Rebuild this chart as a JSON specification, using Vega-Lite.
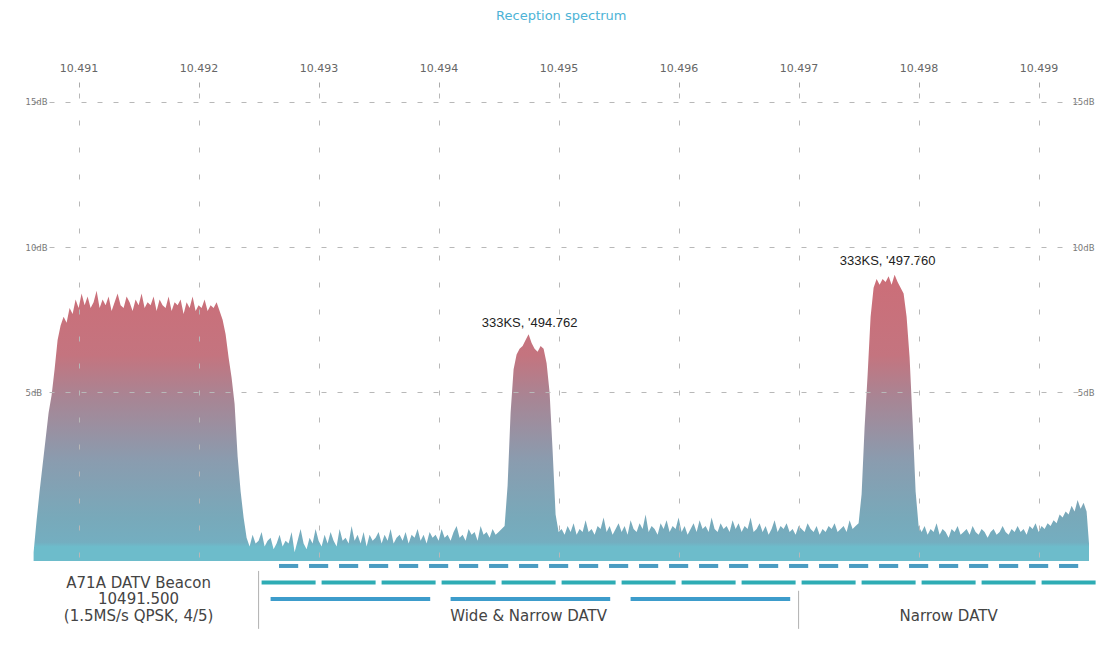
{
"$schema":"https://vega.github.io/schema/vega-lite/v6.json",
"background":"white",
"padding":{"left":25,"top":10,"right":8,"bottom":5},
"title":{"text":"Reception spectrum","fontSize":13,"font":"DejaVu Sans","fontWeight":"normal","color":"#4db3d6","anchor":"middle","offset":39},
"config":{"view":{"stroke":null}},
"spacing":0,
"datasets":{
"spec":[
{"f":10490.625,"d":-0.5},{"f":10490.65,"d":0.6},{"f":10490.675,"d":1.6},{"f":10490.7,"d":2.5},{"f":10490.725,"d":3.4},{"f":10490.75,"d":4.3},{"f":10490.775,"d":4.9},{"f":10490.8,"d":5.8},{"f":10490.825,"d":6.8},{"f":10490.85,"d":7.3},{"f":10490.875,"d":7.6},{"f":10490.9,"d":7.4},{"f":10490.925,"d":7.9},{"f":10490.95,"d":7.7},{"f":10490.975,"d":8.2},
{"f":10491.0,"d":7.9},{"f":10491.025,"d":8.4},{"f":10491.05,"d":8.0},{"f":10491.075,"d":8.3},{"f":10491.1,"d":7.9},{"f":10491.125,"d":8.1},{"f":10491.15,"d":8.5},{"f":10491.175,"d":7.9},{"f":10491.2,"d":8.2},{"f":10491.225,"d":8.0},{"f":10491.25,"d":8.3},{"f":10491.275,"d":7.8},{"f":10491.3,"d":8.1},{"f":10491.325,"d":8.4},{"f":10491.35,"d":8.0},{"f":10491.375,"d":7.9},{"f":10491.4,"d":8.3},{"f":10491.425,"d":8.1},{"f":10491.45,"d":7.8},{"f":10491.475,"d":8.2},{"f":10491.5,"d":8.0},{"f":10491.525,"d":8.4},{"f":10491.55,"d":7.9},{"f":10491.575,"d":8.1},{"f":10491.6,"d":8.0},{"f":10491.625,"d":8.3},{"f":10491.65,"d":7.8},{"f":10491.675,"d":8.2},{"f":10491.7,"d":8.0},{"f":10491.725,"d":7.9},{"f":10491.75,"d":8.3},{"f":10491.775,"d":7.8},{"f":10491.8,"d":8.1},{"f":10491.825,"d":8.0},{"f":10491.85,"d":8.2},{"f":10491.875,"d":7.7},{"f":10491.9,"d":8.1},{"f":10491.925,"d":7.9},{"f":10491.95,"d":8.3},{"f":10491.975,"d":7.8},
{"f":10492.0,"d":8.0},{"f":10492.025,"d":7.9},{"f":10492.05,"d":8.2},{"f":10492.075,"d":7.8},{"f":10492.1,"d":8.0},{"f":10492.125,"d":7.9},{"f":10492.15,"d":8.1},{"f":10492.175,"d":7.8},{"f":10492.2,"d":7.5},{"f":10492.225,"d":7.0},{"f":10492.25,"d":6.2},{"f":10492.275,"d":5.5},{"f":10492.3,"d":4.6},{"f":10492.325,"d":2.8},{"f":10492.35,"d":1.6},{"f":10492.375,"d":0.7},{"f":10492.4,"d":0.0},{"f":10492.425,"d":-0.3},{"f":10492.45,"d":0.1},{"f":10492.475,"d":-0.2},{"f":10492.5,"d":-0.1},{"f":10492.525,"d":0.2},{"f":10492.55,"d":-0.3},{"f":10492.575,"d":-0.1},{"f":10492.6,"d":0.0},{"f":10492.625,"d":-0.4},{"f":10492.65,"d":-0.2},{"f":10492.675,"d":0.1},{"f":10492.7,"d":-0.3},{"f":10492.725,"d":-0.1},{"f":10492.75,"d":-0.2},{"f":10492.775,"d":0.2},{"f":10492.8,"d":-0.5},{"f":10492.825,"d":-0.1},{"f":10492.85,"d":0.3},{"f":10492.875,"d":-0.2},{"f":10492.9,"d":-0.4},{"f":10492.925,"d":0.0},{"f":10492.95,"d":-0.2},{"f":10492.975,"d":0.3},
{"f":10493.0,"d":-0.1},{"f":10493.025,"d":-0.3},{"f":10493.05,"d":0.1},{"f":10493.075,"d":-0.2},{"f":10493.1,"d":0.2},{"f":10493.125,"d":-0.1},{"f":10493.15,"d":-0.3},{"f":10493.175,"d":0.3},{"f":10493.2,"d":-0.1},{"f":10493.225,"d":0.0},{"f":10493.25,"d":-0.2},{"f":10493.275,"d":0.4},{"f":10493.3,"d":-0.1},{"f":10493.325,"d":0.1},{"f":10493.35,"d":-0.2},{"f":10493.375,"d":0.2},{"f":10493.4,"d":-0.3},{"f":10493.425,"d":0.1},{"f":10493.45,"d":-0.1},{"f":10493.475,"d":0.0},{"f":10493.5,"d":0.2},{"f":10493.525,"d":-0.2},{"f":10493.55,"d":0.1},{"f":10493.575,"d":-0.1},{"f":10493.6,"d":0.3},{"f":10493.625,"d":-0.2},{"f":10493.65,"d":0.0},{"f":10493.675,"d":0.1},{"f":10493.7,"d":-0.1},{"f":10493.725,"d":0.2},{"f":10493.75,"d":-0.2},{"f":10493.775,"d":0.1},{"f":10493.8,"d":0.0},{"f":10493.825,"d":0.3},{"f":10493.85,"d":-0.1},{"f":10493.875,"d":0.1},{"f":10493.9,"d":-0.2},{"f":10493.925,"d":0.2},{"f":10493.95,"d":0.0},{"f":10493.975,"d":0.1},
{"f":10494.0,"d":-0.1},{"f":10494.025,"d":0.3},{"f":10494.05,"d":0.0},{"f":10494.075,"d":0.1},{"f":10494.1,"d":-0.1},{"f":10494.125,"d":0.2},{"f":10494.15,"d":0.4},{"f":10494.175,"d":0.0},{"f":10494.2,"d":0.1},{"f":10494.225,"d":-0.1},{"f":10494.25,"d":0.3},{"f":10494.275,"d":0.1},{"f":10494.3,"d":0.2},{"f":10494.325,"d":-0.1},{"f":10494.35,"d":0.4},{"f":10494.375,"d":0.1},{"f":10494.4,"d":0.2},{"f":10494.425,"d":0.0},{"f":10494.45,"d":0.3},{"f":10494.475,"d":0.1},{"f":10494.5,"d":0.2},{"f":10494.525,"d":0.3},{"f":10494.55,"d":0.4},{"f":10494.575,"d":1.8},{"f":10494.6,"d":4.3},{"f":10494.625,"d":5.8},{"f":10494.65,"d":6.3},{"f":10494.675,"d":6.5},{"f":10494.7,"d":6.6},{"f":10494.725,"d":6.8},{"f":10494.75,"d":7.0},{"f":10494.775,"d":6.7},{"f":10494.8,"d":6.5},{"f":10494.825,"d":6.4},{"f":10494.85,"d":6.6},{"f":10494.875,"d":6.5},{"f":10494.9,"d":6.0},{"f":10494.925,"d":5.0},{"f":10494.95,"d":3.0},{"f":10494.975,"d":0.8},
{"f":10495.0,"d":0.2},{"f":10495.025,"d":0.3},{"f":10495.05,"d":0.1},{"f":10495.075,"d":0.4},{"f":10495.1,"d":0.2},{"f":10495.125,"d":0.5},{"f":10495.15,"d":0.1},{"f":10495.175,"d":0.3},{"f":10495.2,"d":0.2},{"f":10495.225,"d":0.6},{"f":10495.25,"d":0.2},{"f":10495.275,"d":0.3},{"f":10495.3,"d":0.1},{"f":10495.325,"d":0.4},{"f":10495.35,"d":0.3},{"f":10495.375,"d":0.7},{"f":10495.4,"d":0.2},{"f":10495.425,"d":0.4},{"f":10495.45,"d":0.1},{"f":10495.475,"d":0.3},{"f":10495.5,"d":0.5},{"f":10495.525,"d":0.2},{"f":10495.55,"d":0.4},{"f":10495.575,"d":0.1},{"f":10495.6,"d":0.6},{"f":10495.625,"d":0.3},{"f":10495.65,"d":0.2},{"f":10495.675,"d":0.5},{"f":10495.7,"d":0.3},{"f":10495.725,"d":0.8},{"f":10495.75,"d":0.2},{"f":10495.775,"d":0.4},{"f":10495.8,"d":0.3},{"f":10495.825,"d":0.1},{"f":10495.85,"d":0.5},{"f":10495.875,"d":0.3},{"f":10495.9,"d":0.6},{"f":10495.925,"d":0.2},{"f":10495.95,"d":0.4},{"f":10495.975,"d":0.3},
{"f":10496.0,"d":0.7},{"f":10496.025,"d":0.2},{"f":10496.05,"d":0.4},{"f":10496.075,"d":0.1},{"f":10496.1,"d":0.3},{"f":10496.125,"d":0.5},{"f":10496.15,"d":0.2},{"f":10496.175,"d":0.6},{"f":10496.2,"d":0.3},{"f":10496.225,"d":0.4},{"f":10496.25,"d":0.2},{"f":10496.275,"d":0.7},{"f":10496.3,"d":0.3},{"f":10496.325,"d":0.2},{"f":10496.35,"d":0.5},{"f":10496.375,"d":0.3},{"f":10496.4,"d":0.4},{"f":10496.425,"d":0.2},{"f":10496.45,"d":0.6},{"f":10496.475,"d":0.3},{"f":10496.5,"d":0.5},{"f":10496.525,"d":0.2},{"f":10496.55,"d":0.4},{"f":10496.575,"d":0.3},{"f":10496.6,"d":0.7},{"f":10496.625,"d":0.2},{"f":10496.65,"d":0.3},{"f":10496.675,"d":0.5},{"f":10496.7,"d":0.2},{"f":10496.725,"d":0.4},{"f":10496.75,"d":0.1},{"f":10496.775,"d":0.3},{"f":10496.8,"d":0.6},{"f":10496.825,"d":0.2},{"f":10496.85,"d":0.4},{"f":10496.875,"d":0.3},{"f":10496.9,"d":0.5},{"f":10496.925,"d":0.2},{"f":10496.95,"d":0.3},{"f":10496.975,"d":0.1},
{"f":10497.0,"d":0.4},{"f":10497.025,"d":0.3},{"f":10497.05,"d":0.2},{"f":10497.075,"d":0.5},{"f":10497.1,"d":0.3},{"f":10497.125,"d":0.2},{"f":10497.15,"d":0.4},{"f":10497.175,"d":0.1},{"f":10497.2,"d":0.3},{"f":10497.225,"d":0.2},{"f":10497.25,"d":0.4},{"f":10497.275,"d":0.3},{"f":10497.3,"d":0.5},{"f":10497.325,"d":0.2},{"f":10497.35,"d":0.3},{"f":10497.375,"d":0.4},{"f":10497.4,"d":0.2},{"f":10497.425,"d":0.6},{"f":10497.45,"d":0.3},{"f":10497.475,"d":0.4},{"f":10497.5,"d":0.5},{"f":10497.525,"d":1.5},{"f":10497.55,"d":3.8},{"f":10497.575,"d":5.6},{"f":10497.6,"d":7.6},{"f":10497.625,"d":8.6},{"f":10497.65,"d":8.9},{"f":10497.675,"d":8.7},{"f":10497.7,"d":8.9},{"f":10497.725,"d":8.8},{"f":10497.75,"d":9.0},{"f":10497.775,"d":8.7},{"f":10497.8,"d":9.05},{"f":10497.825,"d":8.8},{"f":10497.85,"d":8.6},{"f":10497.875,"d":8.4},{"f":10497.9,"d":7.6},{"f":10497.925,"d":6.2},{"f":10497.95,"d":4.0},{"f":10497.975,"d":1.6},
{"f":10498.0,"d":0.4},{"f":10498.025,"d":0.2},{"f":10498.05,"d":0.4},{"f":10498.075,"d":0.1},{"f":10498.1,"d":0.3},{"f":10498.125,"d":0.2},{"f":10498.15,"d":0.5},{"f":10498.175,"d":0.1},{"f":10498.2,"d":0.3},{"f":10498.225,"d":0.2},{"f":10498.25,"d":0.0},{"f":10498.275,"d":0.3},{"f":10498.3,"d":0.2},{"f":10498.325,"d":0.4},{"f":10498.35,"d":0.1},{"f":10498.375,"d":0.2},{"f":10498.4,"d":0.3},{"f":10498.425,"d":0.1},{"f":10498.45,"d":0.4},{"f":10498.475,"d":0.2},{"f":10498.5,"d":0.1},{"f":10498.525,"d":0.3},{"f":10498.55,"d":0.2},{"f":10498.575,"d":0.0},{"f":10498.6,"d":0.2},{"f":10498.625,"d":0.3},{"f":10498.65,"d":0.1},{"f":10498.675,"d":0.2},{"f":10498.7,"d":0.4},{"f":10498.725,"d":0.2},{"f":10498.75,"d":0.1},{"f":10498.775,"d":0.3},{"f":10498.8,"d":0.2},{"f":10498.825,"d":0.4},{"f":10498.85,"d":0.2},{"f":10498.875,"d":0.3},{"f":10498.9,"d":0.1},{"f":10498.925,"d":0.4},{"f":10498.95,"d":0.3},{"f":10498.975,"d":0.5},
{"f":10499.0,"d":0.2},{"f":10499.025,"d":0.4},{"f":10499.05,"d":0.3},{"f":10499.075,"d":0.5},{"f":10499.1,"d":0.4},{"f":10499.125,"d":0.6},{"f":10499.15,"d":0.5},{"f":10499.175,"d":0.8},{"f":10499.2,"d":0.7},{"f":10499.225,"d":0.9},{"f":10499.25,"d":0.8},{"f":10499.275,"d":1.1},{"f":10499.3,"d":0.9},{"f":10499.325,"d":1.3},{"f":10499.35,"d":1.0},{"f":10499.375,"d":1.2},{"f":10499.4,"d":0.9},{"f":10499.42,"d":-0.2}
],
"notes":[
{"f":10494.758,"d":7.4,"t":"333KS, '494.762"},
{"f":10497.742,"d":9.53,"t":"333KS, '497.760"}
],
"bands":[
{"a":10492.67,"b":10492.83,"lvl":1,"row":"r1"},{"a":10492.92,"b":10493.08,"lvl":1,"row":"r1"},{"a":10493.17,"b":10493.33,"lvl":1,"row":"r1"},{"a":10493.42,"b":10493.58,"lvl":1,"row":"r1"},{"a":10493.67,"b":10493.83,"lvl":1,"row":"r1"},{"a":10493.92,"b":10494.08,"lvl":1,"row":"r1"},{"a":10494.17,"b":10494.33,"lvl":1,"row":"r1"},{"a":10494.42,"b":10494.58,"lvl":1,"row":"r1"},{"a":10494.67,"b":10494.83,"lvl":1,"row":"r1"},{"a":10494.92,"b":10495.08,"lvl":1,"row":"r1"},{"a":10495.17,"b":10495.33,"lvl":1,"row":"r1"},{"a":10495.42,"b":10495.58,"lvl":1,"row":"r1"},{"a":10495.67,"b":10495.83,"lvl":1,"row":"r1"},{"a":10495.92,"b":10496.08,"lvl":1,"row":"r1"},{"a":10496.17,"b":10496.33,"lvl":1,"row":"r1"},{"a":10496.42,"b":10496.58,"lvl":1,"row":"r1"},{"a":10496.67,"b":10496.83,"lvl":1,"row":"r1"},{"a":10496.92,"b":10497.08,"lvl":1,"row":"r1"},{"a":10497.17,"b":10497.33,"lvl":1,"row":"r1"},{"a":10497.42,"b":10497.58,"lvl":1,"row":"r1"},{"a":10497.67,"b":10497.83,"lvl":1,"row":"r1"},{"a":10497.92,"b":10498.08,"lvl":1,"row":"r1"},{"a":10498.17,"b":10498.33,"lvl":1,"row":"r1"},{"a":10498.42,"b":10498.58,"lvl":1,"row":"r1"},{"a":10498.67,"b":10498.83,"lvl":1,"row":"r1"},{"a":10498.92,"b":10499.08,"lvl":1,"row":"r1"},{"a":10499.17,"b":10499.33,"lvl":1,"row":"r1"},
{"a":10492.525,"b":10492.975,"lvl":2,"row":"r2"},{"a":10493.025,"b":10493.475,"lvl":2,"row":"r2"},{"a":10493.525,"b":10493.975,"lvl":2,"row":"r2"},{"a":10494.025,"b":10494.475,"lvl":2,"row":"r2"},{"a":10494.525,"b":10494.975,"lvl":2,"row":"r2"},{"a":10495.025,"b":10495.475,"lvl":2,"row":"r2"},{"a":10495.525,"b":10495.975,"lvl":2,"row":"r2"},{"a":10496.025,"b":10496.475,"lvl":2,"row":"r2"},{"a":10496.525,"b":10496.975,"lvl":2,"row":"r2"},{"a":10497.025,"b":10497.475,"lvl":2,"row":"r2"},{"a":10497.525,"b":10497.975,"lvl":2,"row":"r2"},{"a":10498.025,"b":10498.475,"lvl":2,"row":"r2"},{"a":10498.525,"b":10498.975,"lvl":2,"row":"r2"},{"a":10499.025,"b":10499.475,"lvl":2,"row":"r2"},
{"a":10492.6,"b":10493.93,"lvl":3,"row":"r3"},{"a":10494.1,"b":10495.43,"lvl":3,"row":"r3"},{"a":10495.6,"b":10496.93,"lvl":3,"row":"r3"}
],
"seps":[
{"p":10492.5,"l1":1.3,"l2":4.8},
{"p":10497.0,"l1":2.5,"l2":4.8}
],
"btext":[
{"p":10491.5,"lvl":2,"t":"A71A DATV Beacon"},
{"p":10491.5,"lvl":3,"t":"10491.500"},
{"p":10491.5,"lvl":4,"t":"(1.5MS/s QPSK, 4/5)"},
{"p":10494.75,"lvl":4,"t":"Wide & Narrow DATV"},
{"p":10498.25,"lvl":4,"t":"Narrow DATV"}
]
},
"vconcat":[
{
"width":1056,"height":468,
"layer":[
{
"data":{"name":"spec"},
"mark":{"type":"area","interpolate":"linear","clip":true,
"color":{"gradient":"linear","x1":0,"y1":0,"x2":0,"y2":1,"stops":[
{"offset":0,"color":"#cc6e78"},{"offset":0.28,"color":"#c4747f"},{"offset":0.43,"color":"#a88594"},{"offset":0.65,"color":"#8a9caf"},{"offset":0.85,"color":"#78a9ba"},{"offset":0.935,"color":"#74aec0"},{"offset":0.95,"color":"#6dbccb"},{"offset":1,"color":"#6dbccb"}]}},
"encoding":{
"x":{"field":"f","type":"quantitative","scale":{"domain":[10490.62,10499.42],"nice":false,"zero":false},
"axis":{"orient":"top","values":[10491,10492,10493,10494,10495,10496,10497,10498,10499],"labelExpr":"format(datum.value/1000,'.3f')","grid":false,"domain":false,"ticks":true,"tickSize":5,"tickColor":"#aaa","offset":6,"labelPadding":9,"labelFont":"DejaVu Sans","labelFontSize":11,"labelColor":"#666","title":null}},
"y":{"field":"d","type":"quantitative","scale":{"domain":[-0.8,15.3],"nice":false,"zero":false},
"axis":{"orient":"left","values":[5,10,15],"labelExpr":"datum.value + 'dB'","grid":true,"gridDash":[5,11],"gridColor":"#b8b8b8","domain":false,"ticks":false,"tickSize":0,"labelAlign":"left","labelPadding":8,"labelFont":"DejaVu Sans","labelFontSize":8.5,"labelColor":"#777","title":null,"zindex":1}},
"y2":{"datum":-0.8}
}
},
{
"data":{"name":"notes"},
"mark":{"type":"text","font":"Liberation Sans","fontSize":13,"color":"#222","baseline":"middle","align":"center"},
"encoding":{
"x":{"field":"f","type":"quantitative","scale":{"domain":[10490.62,10499.42],"nice":false,"zero":false},
"axis":{"orient":"bottom","values":[10491,10492,10493,10494,10495,10496,10497,10498,10499],"grid":true,"gridDash":[5,22],"gridColor":"#b8b8b8","labels":false,"ticks":false,"tickSize":0,"domain":false,"title":null,"zindex":1}},
"y":{"field":"d","type":"quantitative","scale":{"domain":[-0.8,15.3],"nice":false,"zero":false},
"axis":{"orient":"right","values":[5,10,15],"labelExpr":"datum.value + 'dB'","grid":false,"domain":false,"ticks":false,"tickSize":0,"labelAlign":"right","labelPadding":5,"labelFont":"DejaVu Sans","labelFontSize":8.5,"labelColor":"#777","title":null}},
"text":{"field":"t"}
}
}
],
"resolve":{"axis":{"x":"independent","y":"independent"}}
},
{
"width":1056,"height":72,
"layer":[
{
"data":{"name":"bands"},
"mark":{"type":"rule","strokeWidth":4},
"encoding":{
"x":{"field":"a","type":"quantitative","scale":{"domain":[10490.62,10499.42],"nice":false,"zero":false},"axis":null},
"x2":{"field":"b"},
"y":{"field":"lvl","type":"quantitative","scale":{"domain":[0.7,5.05],"nice":false,"zero":false,"reverse":true},"axis":null},
"color":{"field":"row","type":"nominal","scale":{"domain":["r1","r2","r3"],"range":["#4a9cc2","#2eacb4","#3d9ccb"]},"legend":null}
}
},
{
"data":{"name":"seps"},
"mark":{"type":"rule","color":"#b0b0b0","strokeWidth":1},
"encoding":{
"x":{"field":"p","type":"quantitative","scale":{"domain":[10490.62,10499.42],"nice":false,"zero":false},"axis":null},
"y":{"field":"l1","type":"quantitative","scale":{"domain":[0.7,5.05],"nice":false,"zero":false,"reverse":true},"axis":null},
"y2":{"field":"l2"}
}
},
{
"data":{"name":"btext"},
"mark":{"type":"text","font":"DejaVu Sans","fontSize":15,"color":"#444","baseline":"middle","align":"center"},
"encoding":{
"x":{"field":"p","type":"quantitative","scale":{"domain":[10490.62,10499.42],"nice":false,"zero":false},"axis":null},
"y":{"field":"lvl","type":"quantitative","scale":{"domain":[0.7,5.05],"nice":false,"zero":false,"reverse":true},"axis":null},
"text":{"field":"t"}
}
}
]
}
]
}
